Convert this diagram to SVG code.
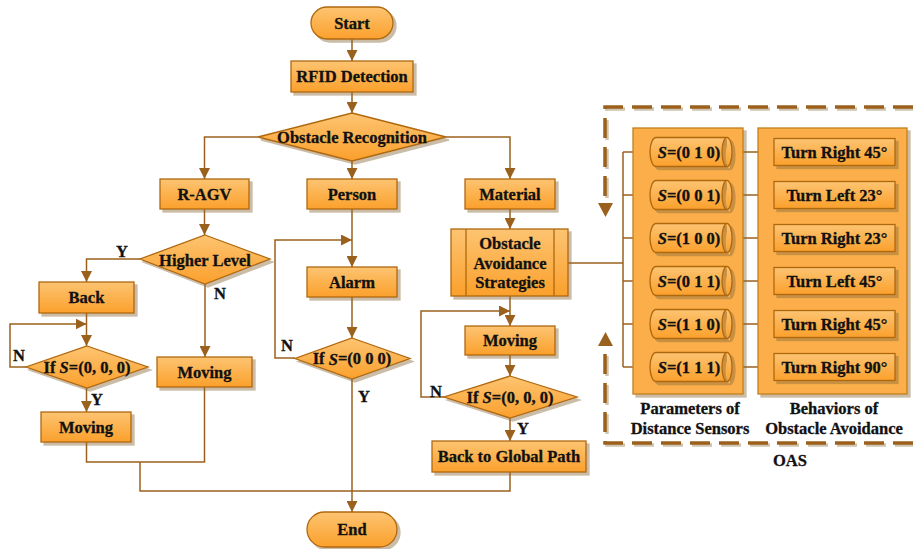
<svg xmlns="http://www.w3.org/2000/svg" width="913" height="549" viewBox="0 0 913 549">
<style>
text{font-family:"Liberation Serif","Times New Roman",serif;font-weight:bold;font-size:16.5px;fill:#111;stroke:#111;stroke-width:0.3;text-anchor:middle;dominant-baseline:central}
.sh{fill:url(#g);stroke:#B0680E;stroke-width:1.3;filter:url(#ds)}
.pn{fill:#FBAE48;stroke:#C0801E;stroke-width:1.3;filter:url(#ds)}
.c{fill:none;stroke:#9A611E;stroke-width:1.5}
.ca{fill:none;stroke:#9A611E;stroke-width:1.5;marker-end:url(#ah)}
.dash{fill:none;stroke:#9A611E;stroke-width:3.5;stroke-dasharray:20 9;filter:url(#ds2)}
</style>
<defs>
<linearGradient id="g" x1="0" y1="0" x2="0" y2="1">
<stop offset="0" stop-color="#FDC472"/>
<stop offset="1" stop-color="#FBA02C"/>
</linearGradient>
<filter id="ds" x="-10%" y="-10%" width="130%" height="140%">
<feDropShadow dx="3" dy="3" stdDeviation="0.6" flood-color="#8A6A3A" flood-opacity="0.45"/>
</filter>
<filter id="ds2" x="-5%" y="-5%" width="115%" height="115%">
<feDropShadow dx="2" dy="2" stdDeviation="0.5" flood-color="#8A6A3A" flood-opacity="0.4"/>
</filter>
<marker id="ah" markerWidth="11" markerHeight="11" refX="11" refY="5.5" orient="auto" markerUnits="userSpaceOnUse">
<path d="M0,0 L11,5.5 L0,11 z" fill="#9A611E"/>
</marker>
</defs>

<g id="oas-frame">
<path class="dash" d="M913 107 H605 V200"/>
<path d="M598 203 L613 203 L605.5 217 z" fill="#9A611E"/>
<path class="dash" d="M913 443 H605 V348"/>
<path d="M598 346 L613 346 L605.5 332 z" fill="#9A611E"/>
<text x="790" y="460">OAS</text>
</g>

<g id="connectors">
<path class="ca" d="M352 39 V61"/>
<path class="ca" d="M352 92 V113"/>
<path class="ca" d="M258 137 H204.5 V179"/>
<path class="ca" d="M352 161 V179"/>
<path class="ca" d="M446 137 H510 V179"/>
<path class="ca" d="M204.5 209 V235"/>
<path class="ca" d="M140 259 H86.5 V282"/>
<path class="ca" d="M205 284 V357"/>
<path class="ca" d="M86.5 313 V346"/>
<path class="ca" d="M26 367 H10 V324 H86.5"/>
<path class="ca" d="M86.5 388 V412"/>
<path class="c" d="M86.5 442 V462 H204.5 V387"/>
<path class="c" d="M140 462 V491 H510 V472"/>
<path class="ca" d="M352 209 V267"/>
<path class="ca" d="M295 358 H275 V240 H352"/>
<path class="ca" d="M352 297 V338"/>
<path class="ca" d="M352 379 V512"/>
<path class="ca" d="M510 209 V229"/>
<path class="ca" d="M510 296 V326"/>
<path class="ca" d="M444 397 H421 V311 H510"/>
<path class="ca" d="M510 355 V376"/>
<path class="ca" d="M510 418 V441"/>
<path class="c" d="M568 263 H623 M623 152 V367"/>
<path class="ca" d="M623 152 H650"/>
<path class="ca" d="M623 195 H650"/>
<path class="ca" d="M623 238 H650"/>
<path class="ca" d="M623 281 H650"/>
<path class="ca" d="M623 324 H650"/>
<path class="ca" d="M623 367 H650"/>
<path class="ca" d="M732 152 H774"/>
<path class="ca" d="M732 195 H774"/>
<path class="ca" d="M732 238 H774"/>
<path class="ca" d="M732 281 H774"/>
<path class="ca" d="M732 324 H774"/>
<path class="ca" d="M732 367 H774"/>
</g>

<g id="labels">
<text x="122" y="251">Y</text>
<text x="220" y="293">N</text>
<text x="19" y="355">N</text>
<text x="97" y="399">Y</text>
<text x="287" y="345">N</text>
<text x="364" y="396">Y</text>
<text x="436" y="391">N</text>
<text x="523" y="428">Y</text>
</g>

<g id="start"><rect class="sh" x="311" y="7" width="82" height="32" rx="16"/><text x="352" y="23">Start</text></g>
<g id="rfid"><rect class="sh" x="291" y="61" width="122" height="31"/><text x="352" y="76.5">RFID Detection</text></g>
<g id="recog"><path class="sh" d="M352 113 L446 137 L352 161 L258 137 z"/><text x="352" y="137">Obstacle Recognition</text></g>
<g id="ragv"><rect class="sh" x="160" y="179" width="89" height="30"/><text x="204.5" y="194">R-AGV</text></g>
<g id="person"><rect class="sh" x="307" y="179" width="90" height="30"/><text x="352" y="194">Person</text></g>
<g id="material"><rect class="sh" x="465" y="179" width="90" height="30"/><text x="510" y="194">Material</text></g>
<g id="higher"><path class="sh" d="M205 235 L270 259 L205 284 L140 259 z"/><text x="205" y="260">Higher Level</text></g>
<g id="back"><rect class="sh" x="39" y="282" width="95" height="31"/><text x="86.5" y="297.5">Back</text></g>
<g id="if1"><path class="sh" d="M87 346 L148 367 L87 388 L26 367 z"/><text x="87" y="367">If <tspan font-style="italic">S</tspan>=(0, 0, 0)</text></g>
<g id="moving1"><rect class="sh" x="41" y="412" width="90" height="30"/><text x="86" y="427">Moving</text></g>
<g id="moving2"><rect class="sh" x="157" y="357" width="95" height="30"/><text x="204.5" y="372">Moving</text></g>
<g id="alarm"><rect class="sh" x="307" y="267" width="90" height="30"/><text x="352" y="282">Alarm</text></g>
<g id="if2"><path class="sh" d="M352 338 L410 358.5 L352 379 L295 358.5 z"/><text x="352" y="358.5">If <tspan font-style="italic">S</tspan>=(0 0 0)</text></g>
<g id="oasbox"><rect class="sh" x="451" y="229" width="117" height="67"/><path d="M466 229 V296 M554 229 V296" stroke="#B0680E" stroke-width="1.3" fill="none"/><text x="510" y="243">Obstacle</text><text x="510" y="263">Avoidance</text><text x="510" y="282">Strategies</text></g>
<g id="moving3"><rect class="sh" x="465" y="326" width="90" height="29"/><text x="510" y="340.5">Moving</text></g>
<g id="if3"><path class="sh" d="M510 376 L577 397 L510 418 L444 397 z"/><text x="510" y="397">If <tspan font-style="italic">S</tspan>=(0, 0, 0)</text></g>
<g id="backglobal"><rect class="sh" x="432" y="441" width="154" height="31"/><text x="509" y="456.5">Back to Global Path</text></g>
<g id="end"><rect class="sh" x="307" y="512" width="90" height="35" rx="17.5"/><text x="352" y="529.5">End</text></g>

<g id="param-panel"><rect class="pn" x="633" y="128" width="110" height="266"/><text x="690" y="408">Parameters of</text><text x="690" y="428">Distance Sensors</text></g>
<g id="behav-panel"><rect class="pn" x="758" y="128" width="149" height="266"/><text x="834" y="408">Behaviors of</text><text x="834" y="428">Obstacle Avoidance</text></g>

<g id="s010"><path class="sh" d="M656 137.5 H727 A5 14.5 0 0 1 727 166.5 H656 A6 14.5 0 0 1 656 137.5 Z M727 137.5 A5 14.5 0 0 0 727 166.5"/><text x="689" y="152"><tspan font-style="italic">S</tspan>=(0 1 0)</text></g>
<g id="s001"><path class="sh" d="M656 180.5 H727 A5 14.5 0 0 1 727 209.5 H656 A6 14.5 0 0 1 656 180.5 Z M727 180.5 A5 14.5 0 0 0 727 209.5"/><text x="689" y="195"><tspan font-style="italic">S</tspan>=(0 0 1)</text></g>
<g id="s100"><path class="sh" d="M656 223.5 H727 A5 14.5 0 0 1 727 252.5 H656 A6 14.5 0 0 1 656 223.5 Z M727 223.5 A5 14.5 0 0 0 727 252.5"/><text x="689" y="238"><tspan font-style="italic">S</tspan>=(1 0 0)</text></g>
<g id="s011"><path class="sh" d="M656 266.5 H727 A5 14.5 0 0 1 727 295.5 H656 A6 14.5 0 0 1 656 266.5 Z M727 266.5 A5 14.5 0 0 0 727 295.5"/><text x="689" y="281"><tspan font-style="italic">S</tspan>=(0 1 1)</text></g>
<g id="s110"><path class="sh" d="M656 309.5 H727 A5 14.5 0 0 1 727 338.5 H656 A6 14.5 0 0 1 656 309.5 Z M727 309.5 A5 14.5 0 0 0 727 338.5"/><text x="689" y="324"><tspan font-style="italic">S</tspan>=(1 1 0)</text></g>
<g id="s111"><path class="sh" d="M656 352.5 H727 A5 14.5 0 0 1 727 381.5 H656 A6 14.5 0 0 1 656 352.5 Z M727 352.5 A5 14.5 0 0 0 727 381.5"/><text x="689" y="367"><tspan font-style="italic">S</tspan>=(1 1 1)</text></g>

<g id="b1"><rect class="sh" x="774" y="138.5" width="121" height="27"/><text x="834.5" y="152">Turn Right 45°</text></g>
<g id="b2"><rect class="sh" x="774" y="181.5" width="121" height="27"/><text x="834.5" y="195">Turn Left 23°</text></g>
<g id="b3"><rect class="sh" x="774" y="224.5" width="121" height="27"/><text x="834.5" y="238">Turn Right 23°</text></g>
<g id="b4"><rect class="sh" x="774" y="267.5" width="121" height="27"/><text x="834.5" y="281">Turn Left 45°</text></g>
<g id="b5"><rect class="sh" x="774" y="310.5" width="121" height="27"/><text x="834.5" y="324">Turn Right 45°</text></g>
<g id="b6"><rect class="sh" x="774" y="353.5" width="121" height="27"/><text x="834.5" y="367">Turn Right 90°</text></g>
</svg>
